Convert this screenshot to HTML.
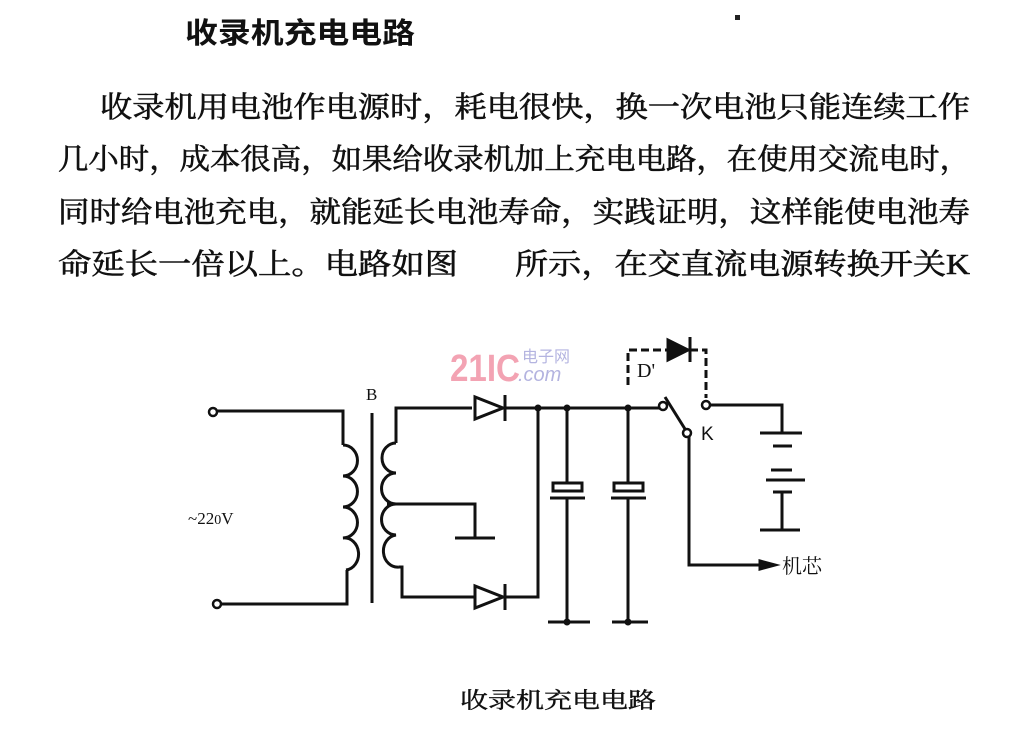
<!DOCTYPE html>
<html><head><meta charset="utf-8"><style>
html,body{margin:0;padding:0;background:#fff;}
svg{display:block;}
text{font-family:"Liberation Serif","Noto Serif CJK SC","Noto Sans CJK SC",serif;fill:#111;}
.p text{stroke:#111;stroke-width:0.6;}
</style></head><body>
<svg width="1036" height="729" viewBox="0 0 1036 729" xmlns="http://www.w3.org/2000/svg">
<rect width="1036" height="729" fill="#fff"/>
<text x="185" y="43" font-size="29" font-weight="bold" textLength="230" lengthAdjust="spacingAndGlyphs" style="font-family:'Noto Sans CJK SC',sans-serif">收录机充电电路</text>
<rect x="735" y="15" width="5" height="5" fill="#222"/>
<g font-size="29" class="p">
<text x="100" y="117" textLength="870" lengthAdjust="spacingAndGlyphs">收录机用电池作电源时，耗电很快，换一次电池只能连续工作</text>
<text x="58" y="169" textLength="912" lengthAdjust="spacingAndGlyphs">几小时，成本很高，如果给收录机加上充电电路，在使用交流电时，</text>
<text x="58" y="222" textLength="912" lengthAdjust="spacingAndGlyphs">同时给电池充电，就能延长电池寿命，实践证明，这样能使电池寿</text>
<text x="58" y="274" textLength="400" lengthAdjust="spacingAndGlyphs">命延长一倍以上。电路如图</text>
<text x="515" y="274" textLength="455" lengthAdjust="spacingAndGlyphs">所示，在交直流电源转换开关K</text>
</g>
<text x="450" y="381" font-size="38" font-weight="bold" style="fill:#f3a3b3;font-family:'Liberation Sans',sans-serif" textLength="70" lengthAdjust="spacingAndGlyphs">21IC</text>
<text x="522" y="362" font-size="16" style="fill:#b4b4e0;font-family:'Noto Sans CJK SC',sans-serif">电子网</text>
<text x="518" y="381" font-size="20" font-style="italic" style="fill:#b4b4e0;font-family:'Liberation Sans',sans-serif">.com</text>
<g stroke="#111" stroke-width="3" fill="none">
<circle cx="213" cy="412" r="4" stroke-width="2.5"/>
<circle cx="217" cy="604" r="4" stroke-width="2.5"/>
<polyline points="217,411 343,411 343,445"/>
<polyline points="221,604 347,604 347,570"/>
<path d="M343,445 a14,15 0 0 1 0,31 a14,15 0 0 1 0,31 a14,15 0 0 1 0,31 a14,16 0 0 1 3,32"/>
<line x1="372" y1="413" x2="372" y2="603"/>
<polyline points="472,408 396,408 396,443"/>
<path d="M396,443 a14,15 0 0 0 0,30 a14,15 0 0 0 0,31 a14,15 0 0 0 0,31 a14,16 0 0 0 3,32"/>
<polyline points="399,567 402,567 402,597 475,597"/>
<polyline points="387,504 475,504 475,538"/>
<line x1="455" y1="538" x2="495" y2="538"/>
<polyline points="505,408 660,408"/>
<polyline points="505,597 538,597 538,408"/>
<line x1="567" y1="408" x2="567" y2="483"/>
<line x1="567" y1="497" x2="567" y2="622"/>
<line x1="548" y1="622" x2="590" y2="622"/>
<line x1="628" y1="408" x2="628" y2="483"/>
<line x1="628" y1="497" x2="628" y2="622"/>
<line x1="612" y1="622" x2="648" y2="622"/>
<circle cx="663" cy="406" r="4" stroke-width="2.5"/>
<line x1="665" y1="397" x2="685" y2="429"/>
<circle cx="687" cy="433" r="4" stroke-width="2.5"/>
<circle cx="706" cy="405" r="4" stroke-width="2.5"/>
<polyline points="710,405 782,405 782,433"/>
<line x1="760" y1="433" x2="802" y2="433"/>
<line x1="773" y1="446" x2="792" y2="446"/>
<line x1="771" y1="470" x2="792" y2="470"/>
<line x1="766" y1="480" x2="805" y2="480"/>
<line x1="773" y1="492" x2="792" y2="492"/>
<line x1="782" y1="492" x2="782" y2="530"/>
<line x1="760" y1="530" x2="800" y2="530"/>
<polyline points="689,437 689,565 765,565"/>
<polyline points="628,385 628,350 668,350" stroke-dasharray="8,4"/>
<polyline points="690,350 706,350 706,398" stroke-dasharray="8,4"/>
</g>
<g fill="#111" stroke="#111" stroke-width="3">
<polygon points="475,397 475,419 503,408" fill="#fff"/>
<line x1="505" y1="395" x2="505" y2="421"/>
<polygon points="475,586 475,608 503,597" fill="#fff"/>
<line x1="505" y1="584" x2="505" y2="610"/>
<polygon points="668,340 668,360 688,350"/>
<line x1="690" y1="337" x2="690" y2="362"/>
<rect x="553" y="483" width="29" height="8" fill="#fff"/>
<line x1="550" y1="498" x2="585" y2="498"/>
<rect x="614" y="483" width="29" height="8" fill="#fff"/>
<line x1="611" y1="498" x2="646" y2="498"/>
<polygon points="760,561 775,565 760,569"/>
</g>
<g fill="#111">
<circle cx="538" cy="408" r="3.5"/><circle cx="567" cy="408" r="3.5"/><circle cx="628" cy="408" r="3.5"/>
<circle cx="567" cy="622" r="3.5"/><circle cx="628" cy="622" r="3.5"/>
</g>
<text x="366" y="400" font-size="17">B</text>
<text x="188" y="524" font-size="17">~22<tspan font-size="14">0</tspan>V</text>
<text x="637" y="377" font-size="20">D'</text>
<text x="701" y="440" font-size="19" style="font-family:'Liberation Sans',sans-serif">K</text>
<text x="782" y="573" font-size="20" style="font-family:'Noto Serif CJK SC',serif">机芯</text>
<text x="460" y="708" font-size="22" textLength="196" lengthAdjust="spacingAndGlyphs" stroke="#111" stroke-width="0.4">收录机充电电路</text>
</svg>
</body></html>
